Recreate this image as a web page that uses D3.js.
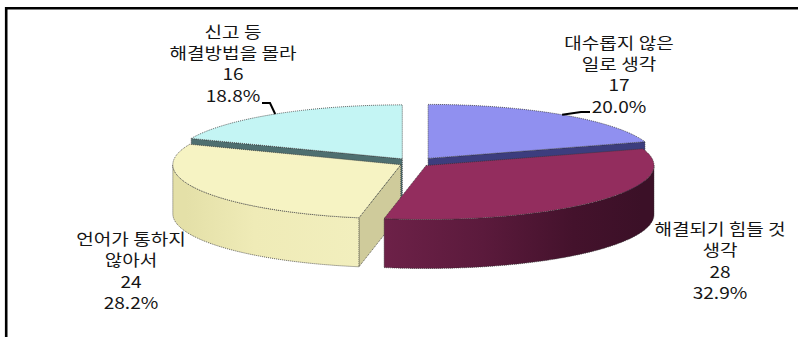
<!DOCTYPE html>
<html>
<head>
<meta charset="utf-8">
<script src="https://cdn.jsdelivr.net/npm/d3@7"></script>
<style>
  html, body { margin: 0; padding: 0; background: #fff; }
  svg { display: block; }
</style>
</head>
<body>
<svg id="chart" width="798" height="337"></svg>
<script>
// Survey answers: why the problem was not reported
const categories = [
  ["대수롭지 않은", "일로 생각"],
  ["해결되기 힘들 것", "생각"],
  ["언어가 통하지", "않아서"],
  ["신고 등", "해결방법을 몰라"]
];
const values = [17, 28, 24, 16];

// Slice styling
const topColors  = ["#9090F0", "#932D5E", "#F6F3C3", "#C4F5F4"];
const faceColors = ["#3C3D7E", "#5A1A3B", "#CFCB9B", "#4E6F70"];
const wallStops = [
  [[0, "#6E6ED0"], [1, "#4A4AA0"]],
  [[0.43, "#6D2148"], [0.65, "#5B1A3C"], [0.85, "#44122C"], [1, "#3B1027"]],
  [[0, "#E4E0A8"], [0.15, "#EFEBB7"], [0.4, "#F2EFBE"], [0.5, "#EEEAB4"]],
  [[0, "#9ACACA"], [1, "#7AAAAA"]]
];
const explode = [24, 16, 15, 21];

// Label layout: centre x and first baseline of each label block
const labelAnchors = [[619, 48.5], [720, 235], [131, 245], [233, 37.5]];
const lineGap = 21.5;

const svg = d3.select("#chart");
const cx = 414, cy = 163, rx = 228, ry = 54, depth = 49;

const xs = d3.scaleLinear().domain([-1, 1]).range([cx - rx, cx + rx]);
const ys = d3.scaleLinear().domain([-1, 1]).range([cy + ry, cy - ry]);
const proj = (a, r, z, o) => [xs(r * Math.sin(a)) + o[0], ys(r * Math.cos(a)) + z + o[1]];

const total = d3.sum(values);
const pct = d3.format(".1%");
const arcs = d3.pie().sort(null).value(d => d)(values);
const line = d3.line();

// frame
svg.append("line").attr("x1", 5).attr("x2", 798).attr("y1", 8.3).attr("y2", 8.3)
  .attr("stroke", "#000").attr("stroke-width", 2.6);
svg.append("line").attr("x1", 6.2).attr("x2", 6.2).attr("y1", 7).attr("y2", 337)
  .attr("stroke", "#000").attr("stroke-width", 2.6);

const defs = svg.append("defs");
wallStops.forEach((stops, i) => {
  const g = defs.append("linearGradient").attr("id", "wall" + i)
    .attr("gradientUnits", "userSpaceOnUse")
    .attr("x1", cx - rx).attr("x2", cx + rx).attr("y1", 0).attr("y2", 0);
  stops.forEach(s => g.append("stop").attr("offset", s[0]).attr("stop-color", s[1]));
});

const outline = sel => sel.attr("stroke", "#333").attr("stroke-width", 1)
  .attr("stroke-dasharray", "1,1").attr("stroke-opacity", 0.75);

const rim = (a0, a1, z, o) => {
  const n = Math.max(2, Math.ceil(Math.abs(a1 - a0) / 0.01));
  return d3.range(n + 1).map(k => proj(a0 + (a1 - a0) * k / n, 1, z, o));
};

const slices = arcs.map((d, i) => {
  const mid = (d.startAngle + d.endAngle) / 2;
  const o = [explode[i] * Math.sin(mid), -explode[i] * Math.cos(mid) * ry / rx];
  return { d, i, mid, o };
});

const layer = svg.append("g");
slices.slice().sort((p, q) => Math.cos(q.mid) - Math.cos(p.mid)).forEach(s => {
  const { d, i, o } = s;
  const a0 = d.startAngle, a1 = d.endAngle;
  const g = layer.append("g");
  const apex = proj(0, 0, 0, o), apexB = proj(0, 0, depth, o);

  // radial side faces turned toward the viewer
  [[a0, a0 - Math.PI / 2], [a1, a1 + Math.PI / 2]].forEach(([a, n]) => {
    if (Math.cos(n) < -1e-6) {
      const p = proj(a, 1, 0, o), pb = proj(a, 1, depth, o);
      g.append("path").attr("d", line([apex, p, pb, apexB]) + "Z")
        .attr("fill", faceColors[i]).call(outline);
    }
  });

  // curved outer wall on the front half
  const b0 = Math.max(a0, Math.PI / 2), b1 = Math.min(a1, 3 * Math.PI / 2);
  if (b1 > b0) {
    const pts = rim(b0, b1, 0, o).concat(rim(b0, b1, depth, o).reverse());
    g.append("path").attr("d", line(pts) + "Z")
      .attr("fill", `url(#wall${i})`).call(outline);
  }

  // top face
  g.append("path").attr("d", line([apex].concat(rim(a0, a1, 0, o))) + "Z")
    .attr("fill", topColors[i]).call(outline);
});

// leader lines for the two upper slices
const leaders = [[0, [[590, 112], [581, 112]]], [3, [[262, 103], [270, 103]]]];
leaders.forEach(([i, pts]) => {
  const s = slices[i];
  svg.append("path")
    .attr("d", line(pts.concat([proj(s.mid, 1, 0, s.o)])))
    .attr("fill", "none").attr("stroke", "#000").attr("stroke-width", 2);
});

// labels
slices.forEach(s => {
  const lines = categories[s.i].concat([String(values[s.i]), pct(values[s.i] / total)]);
  const [lx, ly] = labelAnchors[s.i];
  const g = svg.append("g").attr("transform", `translate(${lx},${ly}) scale(1.19,1)`);
  g.selectAll("text").data(lines).join("text")
    .attr("x", 0).attr("y", (t, k) => k * lineGap)
    .attr("text-anchor", "middle")
    .attr("font-family", "'Noto Sans CJK KR', 'Noto Sans', sans-serif")
    .attr("font-size", 16)
    .attr("fill", "#151515")
    .text(t => t);
});
</script>
</body>
</html>
